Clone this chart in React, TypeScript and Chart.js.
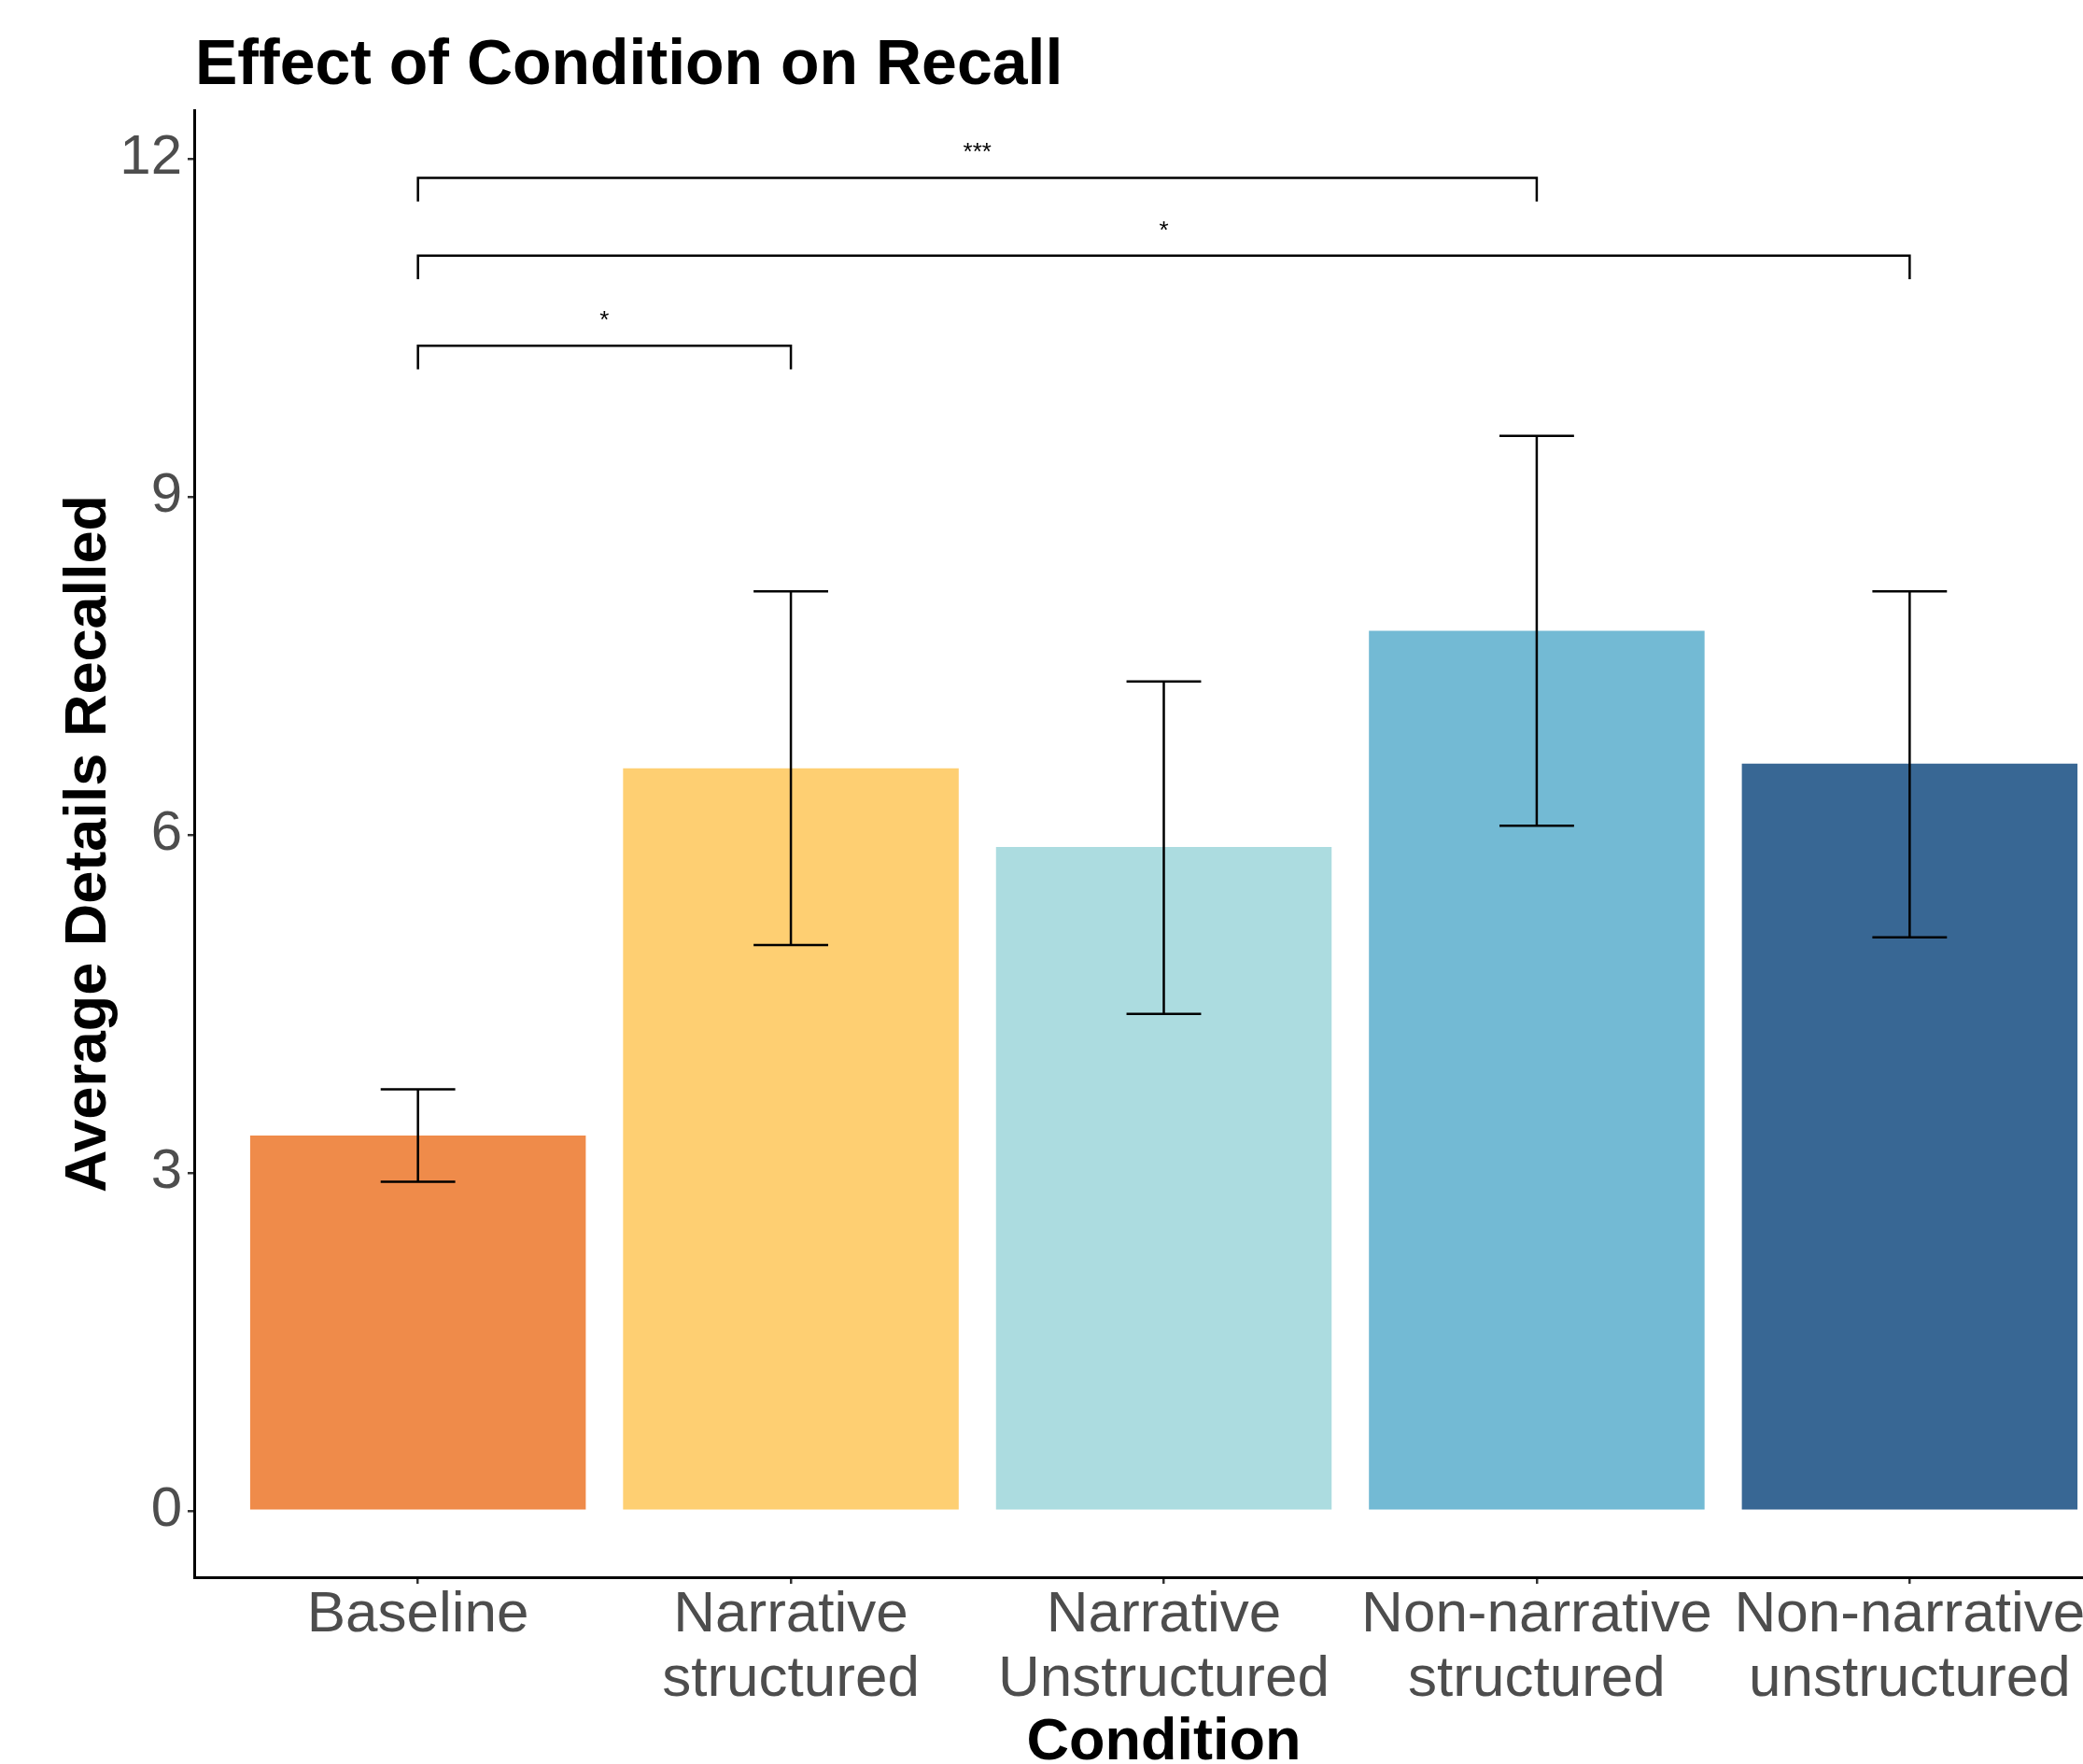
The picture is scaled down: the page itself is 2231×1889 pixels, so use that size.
import React, { useEffect, useRef } from "react";
import { Chart, registerables } from "chart.js";

Chart.register(...registerables);

// ---- data ----
const categories = [
  "Baseline",
  "Narrative structured",
  "Narrative Unstructured",
  "Non-narrative structured",
  "Non-narrative unstructured",
];
const categoryLines = [
  ["Baseline"],
  ["Narrative", "structured"],
  ["Narrative", "Unstructured"],
  ["Non-narrative", "structured"],
  ["Non-narrative", "unstructured"],
];
const meanRecall = [3.33, 6.59, 5.89, 7.81, 6.63];
const errorLow = [2.92, 5.02, 4.41, 6.08, 5.09];
const errorHigh = [3.74, 8.16, 7.36, 9.54, 8.16];
const barColors = ["#EF8B4A", "#FECF72", "#ACDCE0", "#73BAD4", "#386794"];
const yTicks = [0, 3, 6, 9, 12];

const sigFrom = [0, 0, 0];
const sigTo = [3, 4, 1];
const sigY = [11.83, 11.14, 10.34];
const sigLabels = ["***", "*", "*"];

const titleText = "Effect of Condition on Recall";
const yTitleText = "Average Details Recalled";
const xTitleText = "Condition";

// ---- style constants ----
const FONT = '"Liberation Sans", Arial, sans-serif';
const CAP_WIDTH = 0.2; // in category units
const TIP_LEN = 0.21; // in value units
const CANVAS_W = 2285;
const CANVAS_H = 1889;

const annotatePlugin = {
  id: "annotate",
  afterDatasetsDraw(chart: any) {
    const { ctx } = chart;
    const x = chart.scales.x;
    const y = chart.scales.y;
    ctx.save();
    ctx.strokeStyle = "#000000";
    ctx.lineWidth = 2.5;
    ctx.lineCap = "butt";
    // error bars
    meanRecall.forEach((_, i) => {
      const cx = x.getPixelForValue(i);
      const x0 = x.getPixelForValue(i - CAP_WIDTH / 2);
      const x1 = x.getPixelForValue(i + CAP_WIDTH / 2);
      const yl = y.getPixelForValue(errorLow[i]);
      const yh = y.getPixelForValue(errorHigh[i]);
      ctx.beginPath();
      ctx.moveTo(cx, yh);
      ctx.lineTo(cx, yl);
      ctx.moveTo(x0, yh);
      ctx.lineTo(x1, yh);
      ctx.moveTo(x0, yl);
      ctx.lineTo(x1, yl);
      ctx.stroke();
    });
    // significance brackets
    sigY.forEach((v, k) => {
      const xa = x.getPixelForValue(sigFrom[k]);
      const xb = x.getPixelForValue(sigTo[k]);
      const yb = y.getPixelForValue(v);
      const yt = y.getPixelForValue(v - TIP_LEN);
      ctx.beginPath();
      ctx.moveTo(xa, yt);
      ctx.lineTo(xa, yb);
      ctx.lineTo(xb, yb);
      ctx.lineTo(xb, yt);
      ctx.stroke();
      ctx.fillStyle = "#000000";
      ctx.font = `26px ${FONT}`;
      ctx.textAlign = "center";
      ctx.textBaseline = "alphabetic";
      ctx.fillText(sigLabels[k], (xa + xb) / 2, yb - 19);
    });
    ctx.restore();
  },
  afterDraw(chart: any) {
    const { ctx, chartArea } = chart;
    ctx.save();
    ctx.fillStyle = "#000000";
    // main title
    ctx.font = `bold 68px ${FONT}`;
    ctx.textAlign = "left";
    ctx.textBaseline = "alphabetic";
    ctx.fillText(titleText, chartArea.left + 1, 90);
    // x title
    ctx.font = `bold 63px ${FONT}`;
    ctx.textAlign = "center";
    ctx.fillText(xTitleText, (chartArea.left + chartArea.right) / 2, 1884);
    // y title
    ctx.translate(113, (chartArea.top + chartArea.bottom) / 2);
    ctx.rotate(-Math.PI / 2);
    ctx.fillText(yTitleText, 0, 0);
    ctx.restore();
  },
};

export default function App() {
  const canvasRef = useRef<HTMLCanvasElement | null>(null);

  useEffect(() => {
    const canvas = canvasRef.current;
    if (!canvas) return;
    Chart.defaults.font.family = FONT;

    const chart = new Chart(canvas, {
      type: "bar",
      data: {
        labels: categories,
        datasets: [
          {
            label: "Average Details Recalled",
            data: meanRecall.map((v, i) => ({ x: i, y: v })),
            backgroundColor: barColors,
            borderWidth: 0,
            barPercentage: 0.9,
            categoryPercentage: 1.0,
          },
        ],
      },
      options: {
        responsive: false,
        maintainAspectRatio: false,
        devicePixelRatio: 1,
        animation: false,
        layout: { padding: { top: 118, left: 0, right: 0, bottom: 0 } },
        plugins: {
          legend: { display: false },
          tooltip: { enabled: false },
          title: { display: false },
        },
        scales: {
          x: {
            type: "linear",
            min: -0.6,
            max: 4.6,
            bounds: "data",
            offset: false,
            afterBuildTicks: (scale: any) => {
              scale.ticks = categories.map((_, i) => ({ value: i }));
            },
            afterFit: (scale: any) => {
              scale.height = 200;
            },
            grid: {
              display: true,
              offset: false,
              drawOnChartArea: false,
              drawTicks: true,
              tickLength: 7,
              tickColor: "#333333",
              tickWidth: 2.5,
              lineWidth: 2.5,
              color: "#333333",
            },
            border: { display: true, color: "#000000", width: 3 },
            ticks: {
              autoSkip: false,
              maxRotation: 0,
              minRotation: 0,
              padding: -1,
              color: "#4D4D4D",
              font: { family: FONT, size: 62, lineHeight: 1.12 },
              callback: (value: any) => categoryLines[Math.round(Number(value))] ?? "",
            },
          },
          y: {
            type: "linear",
            min: -0.59,
            max: 12.43,
            bounds: "data",
            afterBuildTicks: (scale: any) => {
              scale.ticks = yTicks.map((v) => ({ value: v }));
            },
            afterFit: (scale: any) => {
              scale.width = 208;
            },
            grid: {
              display: true,
              drawOnChartArea: false,
              drawTicks: true,
              tickLength: 7,
              tickColor: "#333333",
              tickWidth: 2.5,
              lineWidth: 2.5,
              color: "#333333",
            },
            border: { display: true, color: "#000000", width: 3 },
            ticks: {
              padding: 6,
              color: "#4D4D4D",
              font: { family: FONT, size: 60 },
              callback: (value: any) => String(value),
            },
          },
        },
      },
      plugins: [annotatePlugin],
    } as any);

    return () => {
      chart.destroy();
    };
  }, []);

  return (
    <div
      style={{
        position: "fixed",
        left: 0,
        top: 0,
        width: "2231px",
        height: "1889px",
        overflow: "hidden",
        background: "#ffffff",
      }}
    >
      <canvas
        ref={canvasRef}
        width={CANVAS_W}
        height={CANVAS_H}
        style={{ display: "block", width: `${CANVAS_W}px`, height: `${CANVAS_H}px` }}
      />
    </div>
  );
}
